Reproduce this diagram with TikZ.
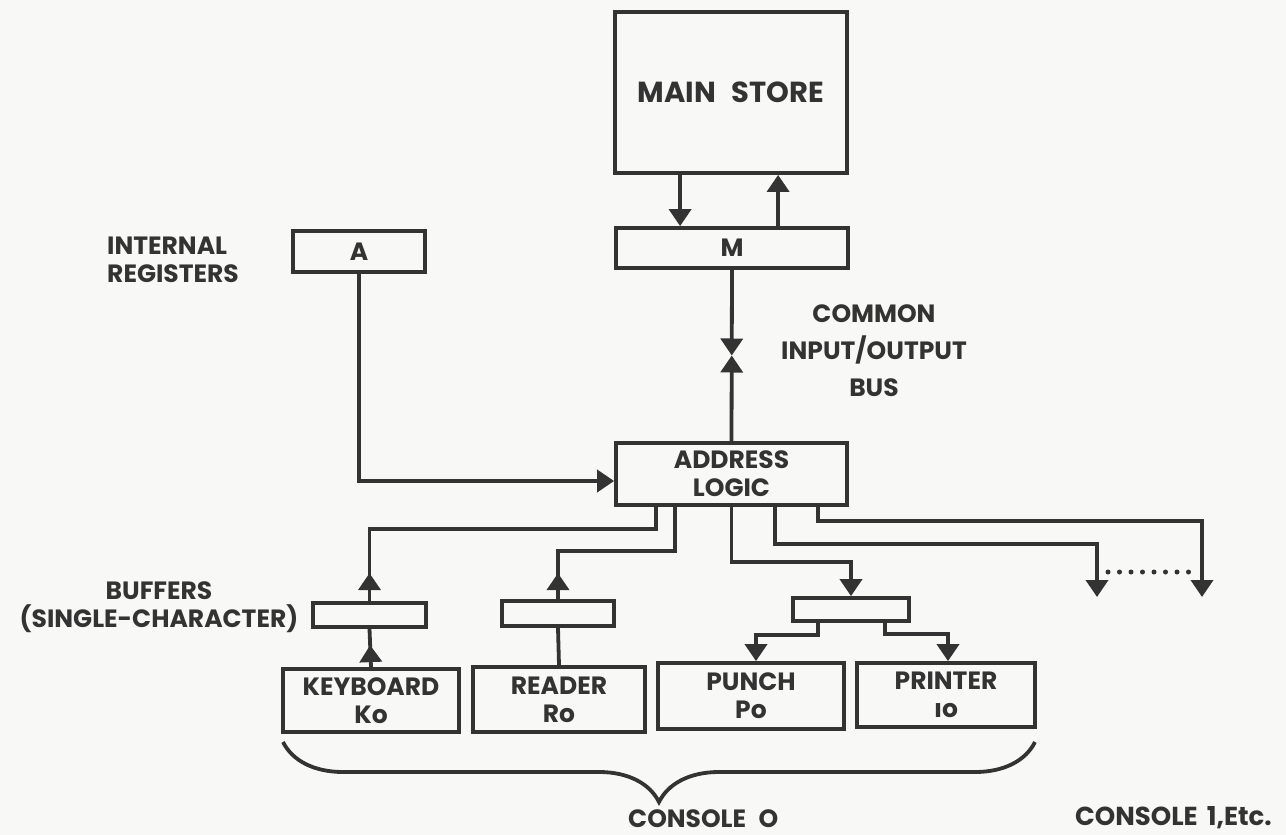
\documentclass[tikz,border=0pt]{standalone}
\usepackage{fontspec}
\setmainfont{Poppins}
\usetikzlibrary{arrows.meta,calc,decorations.markings,decorations.pathreplacing}
\definecolor{inkc}{HTML}{333333}
\definecolor{paper}{HTML}{F8F8F6}
\newcommand\lblfont{\bfseries\fontsize{25}{28}\selectfont}
\newcommand\storefont{\bfseries\fontsize{29}{32}\selectfont}
\tikzset{
  ink/.style={draw=inkc, line width=3.8pt},
  box/.style={ink, inner sep=0pt, align=center, text=inkc, font=\lblfont},
  conn/.style={ink, line join=miter},
  tipend/.style={-{Triangle[width=22pt,length=17pt]}},
  arrowat/.style={postaction={decorate}, decoration={markings, mark=at position #1 with {\arrow{Triangle[width=22pt,length=17pt]}}}},
  lbl/.style={text=inkc, align=center, inner sep=0pt, font=\lblfont},
  dots/.style={draw=inkc, line width=5pt, line cap=round, dash pattern=on 0pt off 11.5pt}
}
\begin{document}
\begin{tikzpicture}[x=1pt,y=-1pt]
\fill[paper] (0,0) rectangle (1286,835);
\useasboundingbox (0,0) rectangle (1286,835);

% boxes
\node[box, minimum width=232pt, minimum height=161pt, font=\storefont] (store) at (731,92.5) {MAIN\hspace{0.55em}STORE};
\node[box, minimum width=232pt, minimum height=40pt] (M) at (732,248) {M};
\node[box, minimum width=132pt, minimum height=41pt] (A) at (359,251.5) {A};
\node[box, minimum width=231pt, minimum height=62pt] (AL) at (731.5,474) {ADDRESS\\LOGIC};
\node[box, minimum width=113pt, minimum height=24pt] (buf1) at (369.5,615) {};
\node[box, minimum width=112pt, minimum height=25pt] (buf2) at (558,613.5) {};
\node[box, minimum width=116pt, minimum height=23pt] (buf3) at (851,609.5) {};
\node[box, minimum width=176pt, minimum height=63pt] (kb) at (371,700.5) {KEYBOARD\\Ko};
\node[box, minimum width=172pt, minimum height=65pt] (rd) at (559,699.5) {READER\\Ro};
\node[box, minimum width=186pt, minimum height=66pt] (pu) at (751,696) {PUNCH\\Po};
\node[box, minimum width=178pt, minimum height=64pt] (pr) at (946,695) {PRINTER\\ıo};

% labels
\node[lbl, align=left, anchor=west] (ireg) at (107,260) {INTERNAL\\REGISTERS};
\node[lbl, font=\bfseries\fontsize{25}{37}\selectfont] (bus) at (874,351) {COMMON\\INPUT/OUTPUT\\BUS};
\node[lbl] (bufl) at (159,607) {BUFFERS\\(SINGLE-CHARACTER)};
\node[lbl, anchor=west] (c0) at (628,819) {CONSOLE\hspace{0.5em}O};
\node[lbl, anchor=east, font=\bfseries\fontsize{26}{30}\selectfont] (c1) at (1272,818) {CONSOLE\hspace{0.35em}1,Etc.};

% store <-> M
\draw[conn, tipend] ($(store.south west)+(67,0)$) -- ($(M.north west)+(66,0)$);
\draw[conn, tipend] ($(M.north west)+(164,0)$) -- ($(store.south west)+(165,0)$);

% bus
\coordinate (busmid) at ($(M.south)!0.5!(AL.north)$);
\draw[conn, tipend] (M.south) -- (busmid);
\draw[conn, tipend] (AL.north) -- (busmid);

% A -> address logic
\draw[conn, tipend] (A.south) |- ($(AL.west)+(0,7)$);

% keyboard chain
\draw[conn, arrowat=22pt] (kb.north) -- (buf1.south);
\draw[conn, arrowat=28pt] (buf1.north) |- ($(AL.south west)+(42,22)$) -- ($(AL.south west)+(42,0)$);

% reader chain
\draw[conn] (rd.north) -- (buf2.south);
\draw[conn, arrowat=26pt] (buf2.north) |- ($(AL.south west)+(61,44)$) -- ($(AL.south west)+(61,0)$);

% punch/printer chain
\draw[conn, tipend] (AL.south) |- ($(buf3.north)+(0,-34)$) -- (buf3.north);
\draw[conn, tipend] ($(buf3.south)+(-33,0)$) |- ($(pu.north)+(5,-26)$) -- ($(pu.north)+(5,0)$);
\draw[conn, tipend] ($(buf3.south)+(34,0)$) |- ($(pr.north)+(2,-27)$) -- ($(pr.north)+(2,0)$);

% further consoles
\coordinate (e1) at (1097,597);
\coordinate (e2) at (1202,597);
\draw[conn, tipend] ($(AL.south west)+(161,0)$) |- ($(e1)+(0,-53)$) -- (e1);
\draw[conn, tipend] ($(AL.south west)+(204,0)$) |- ($(e2)+(0,-76)$) -- (e2);
\draw[dots] ($(e1)+(11,-25)$) -- ($(e2)+(-10,-25)$);

% console brace
\coordinate (bl) at (283,742);
\coordinate (br) at (1035,742);
\draw[ink, decorate, decoration={brace, mirror, amplitude=60pt}] (bl) -- (br);
\end{tikzpicture}
\end{document}
